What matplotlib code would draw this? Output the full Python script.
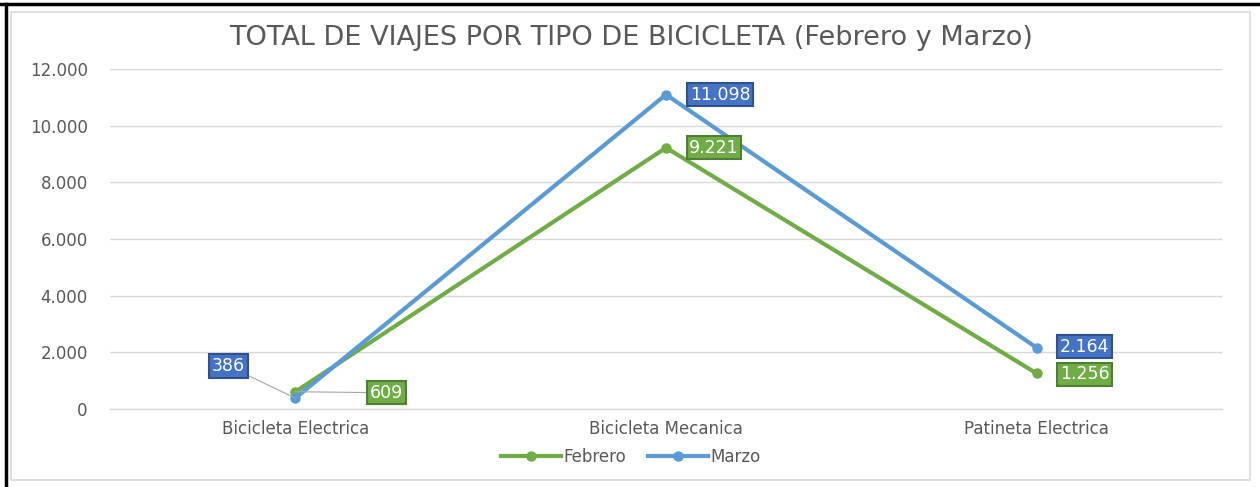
import matplotlib
matplotlib.use("Agg")
import matplotlib.pyplot as plt
from matplotlib.patches import Rectangle
from matplotlib.lines import Line2D

categories = ["Bicicleta Electrica", "Bicicleta Mecanica", "Patineta Electrica"]
febrero = [609, 9221, 1256]
marzo = [386, 11098, 2164]
yticks = [0, 2000, 4000, 6000, 8000, 10000, 12000]
ytick_labels = ["0", "2.000", "4.000", "6.000", "8.000", "10.000", "12.000"]
feb_labels = ["609", "9.221", "1.256"]
mar_labels = ["386", "11.098", "2.164"]

W, H = 1260, 487
fig = plt.figure(figsize=(W / 100, H / 100), dpi=100)
fig.patch.set_facecolor("white")

# outer frame lines (black) and chart area border (light gray)
fig.add_artist(Line2D([0, 1], [1 - 4 / H, 1 - 4 / H], color="black", lw=2.5, transform=fig.transFigure))
fig.add_artist(Line2D([6 / W, 6 / W], [0, 1 - 4 / H], color="black", lw=2.5, transform=fig.transFigure))
fig.add_artist(Rectangle((11 / W, 7 / H), (1250 - 11) / W, (480 - 12) / H, transform=fig.transFigure,
                         fill=False, edgecolor="#d9d9d9", lw=1.2))

x0, x1 = 110, 1222
y_top, y_bot = 69, 409
ax = fig.add_axes([x0 / W, 1 - y_bot / H, (x1 - x0) / W, (y_bot - y_top) / H])
ax.set_xlim(-0.5, 2.5)
ax.set_ylim(0, 12000)
for s in ax.spines.values():
    s.set_visible(False)
ax.set_yticks(yticks)
ax.set_yticklabels(ytick_labels)
ax.set_xticks(range(len(categories)))
ax.set_xticklabels(categories)
ax.tick_params(axis="both", length=0, labelsize=12, labelcolor="#595959")
ax.tick_params(axis="y", pad=16)
ax.tick_params(axis="x", pad=8)
ax.grid(axis="y", color="#d9d9d9", lw=1)
ax.axhline(0, color="#d9d9d9", lw=1, clip_on=False, zorder=0)
ax.set_axisbelow(True)

green = "#70AD47"
blue = "#5B9BD5"
xs = list(range(len(categories)))
l_feb, = ax.plot(xs, febrero, color=green, lw=3.0, marker="o", ms=6.5, label="Febrero", zorder=3, clip_on=False)
l_mar, = ax.plot(xs, marzo, color=blue, lw=3.0, marker="o", ms=6.5, label="Marzo", zorder=3, clip_on=False)

def label(x, y, text, face, edge, dx, dy, leader=False):
    ax.annotate(text, (x, y), xytext=(dx, dy), textcoords="offset pixels",
                ha="center", va="center", color="white", fontsize=12.5,
                bbox=dict(boxstyle="square,pad=0.15", fc=face, ec=edge, lw=1.5),
                arrowprops=dict(arrowstyle="-", color="#a6a6a6", lw=0.8,
                                shrinkA=0, shrinkB=0) if leader else None,
                zorder=5)

box_blue, edge_blue = "#4472C4", "#2F528F"
box_green, edge_green = "#70AD47", "#507E32"

# Bicicleta Electrica (with leader lines)
label(0, marzo[0], mar_labels[0], box_blue, edge_blue, -67, 32, leader=True)
label(0, febrero[0], feb_labels[0], box_green, edge_green, 91, -1, leader=True)
# Bicicleta Mecanica
label(1, marzo[1], mar_labels[1], box_blue, edge_blue, 54, 0)
label(1, febrero[1], feb_labels[1], box_green, edge_green, 48, 0)
# Patineta Electrica
label(2, marzo[2], mar_labels[2], box_blue, edge_blue, 48, 1)
label(2, febrero[2], feb_labels[2], box_green, edge_green, 48, -1)

fig.text(631 / W, 1 - 38 / H, "TOTAL DE VIAJES POR TIPO DE BICICLETA (Febrero y Marzo)",
         ha="center", va="center", fontsize=19.5, color="#595959")

leg = fig.legend(handles=[l_feb, l_mar], loc="center", bbox_to_anchor=(631 / W, 1 - 457 / H),
                 ncol=2, frameon=False, fontsize=12, handlelength=3.6, columnspacing=1.3,
                 handletextpad=0.15, labelcolor="#595959")

fig.savefig("out.png", dpi=100, facecolor="white")
